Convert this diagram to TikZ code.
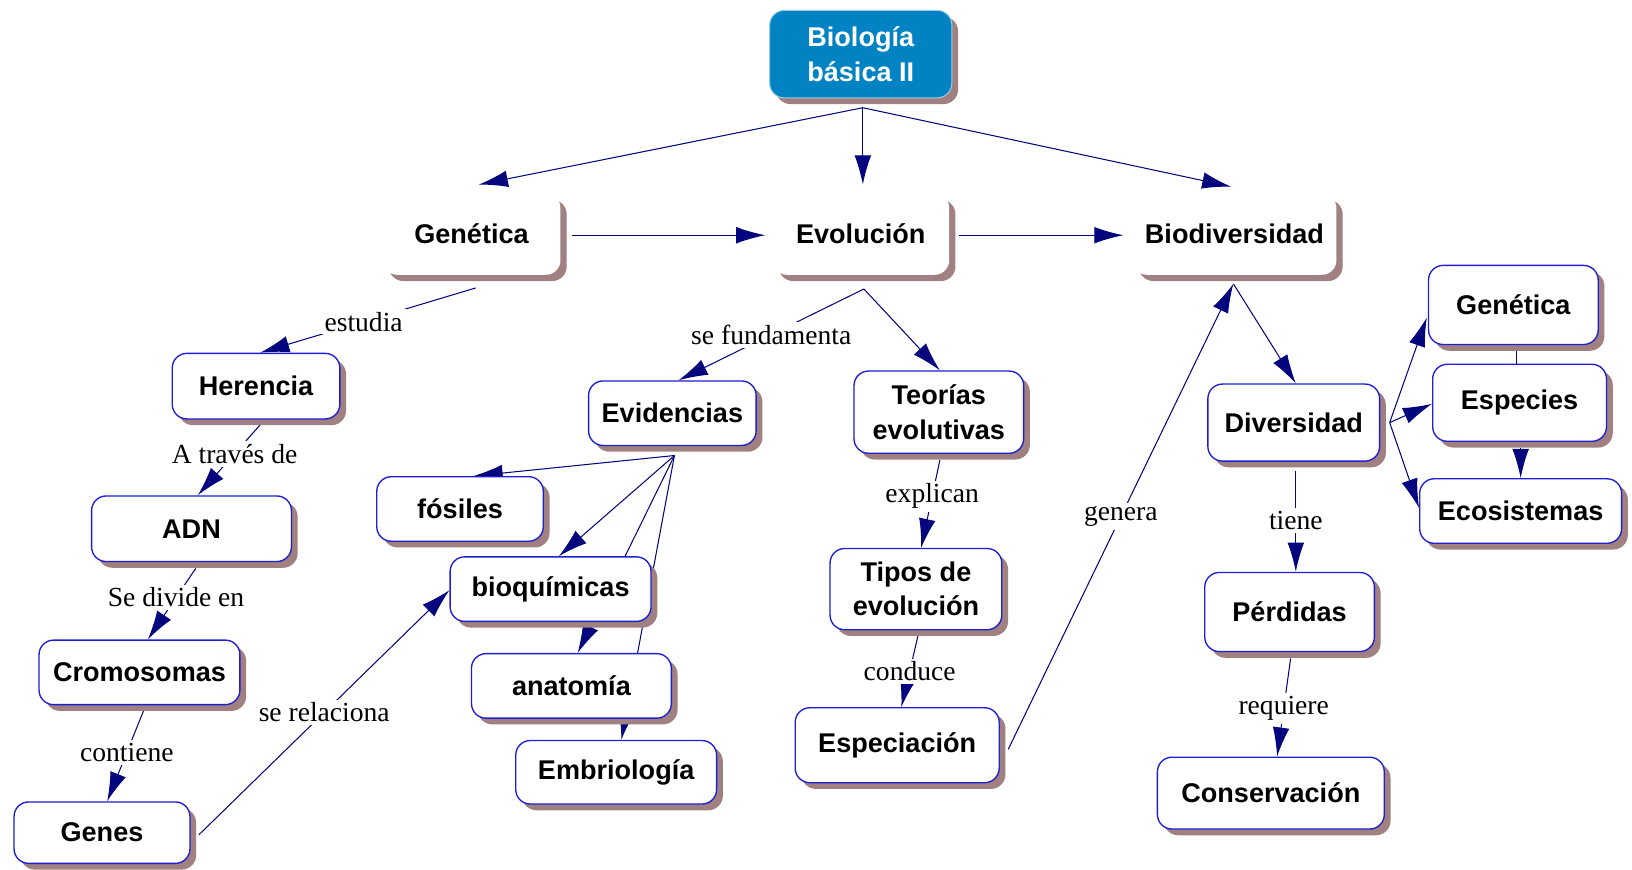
\documentclass[tikz,border=0pt]{standalone}
\usepackage{fontspec}
\setmainfont{Liberation Serif}
\newfontfamily\cfont{Liberation Sans}
\usetikzlibrary{arrows.meta,shadows,calc}
\pgfdeclarelayer{bg}
\pgfsetlayers{bg,main}
\definecolor{nodeblue}{RGB}{30,30,210}
\definecolor{edgec}{RGB}{5,5,125}
\definecolor{shadc}{RGB}{160,128,128}
\definecolor{bioc}{RGB}{0,130,195}
\tikzset{
  concept/.style={draw=nodeblue, line width=1.3pt, fill=white, rounded corners=14pt,
    font=\cfont\bfseries\fontsize{26}{33}\selectfont, align=center, inner sep=0pt,
    drop shadow={shadow xshift=6pt, shadow yshift=-6pt, fill=shadc, opacity=1}},
  plainbox/.style={concept, draw=none},
  rootbox/.style={concept, fill=bioc, draw=white!60!bioc, line width=1pt, text=white},
  sz/.style 2 args={minimum width=#1pt, minimum height=#2pt},
  lab/.style={fill=white, font=\fontsize{26.5}{30}\selectfont, inner sep=3pt},
  arr/.style={draw=edgec, line width=1pt, -{Latex[length=28pt,width=16pt]}},
  ln/.style={draw=edgec, line width=1pt},
}
\begin{document}
\begin{tikzpicture}[x=1pt,y=-1pt]
\useasboundingbox (0,0) rectangle (1568,835);
% nodes
\node[rootbox, sz={175}{84}] (bio) at (827,52) {Biología\\básica II};
\node[plainbox, sz={171}{78}] (gen) at (453,225) {Genética};
\node[plainbox, sz={170}{78}] (evo) at (827,225) {Evolución};
\node[plainbox, sz={196}{78}] (biod) at (1186,225) {Biodiversidad};
\node[concept, sz={161}{63}] (her) at (246,371) {Herencia};
\node[concept, sz={192}{63}] (adn) at (184,508) {ADN};
\node[concept, sz={193}{62}] (cro) at (134,646) {Cromosomas};
\node[concept, sz={169}{59}] (genes) at (98,800) {Genes};
\node[concept, sz={161}{62}] (evid) at (646,397) {Evidencias};
\node[concept, sz={160}{62}] (fos) at (442,489) {fósiles};
\node[concept, sz={193}{62}] (bioq) at (529,566) {bioquímicas};
\node[concept, sz={192}{62}] (anat) at (549,659) {anatomía};
\node[concept, sz={193}{61}] (embr) at (592,742) {Embriología};
\node[concept, sz={163}{79}] (teo) at (902,396) {Teorías\\evolutivas};
\node[concept, sz={165}{78}] (tipos) at (880,566) {Tipos de\\evolución};
\node[concept, sz={196}{72}] (espe) at (862,716) {Especiación};
\node[concept, sz={165}{74}] (diver) at (1243,406) {Diversidad};
\node[concept, sz={163}{76}] (perd) at (1239,588) {Pérdidas};
\node[concept, sz={218}{69}] (cons) at (1221,762) {Conservación};
\node[concept, sz={163}{76}] (gen2) at (1454,293) {Genética};
\node[concept, sz={167}{74}] (espc) at (1460,387) {Especies};
\node[concept, sz={194}{62}] (eco) at (1461,491) {Ecosistemas};
% connectors
\begin{pgfonlayer}{bg}
\draw[arr] ($(bio.south)+(2,9)$) -- ($(gen.north)+(7,-8)$);
\draw[arr] ($(bio.south)+(2,9)$) -- ($(evo.north)+(2,-8)$);
\draw[arr] ($(bio.south)+(2,9)$) -- ($(biod.north)+(-3,-6)$);
\draw[arr] ($(gen.east)+(10,1)$) -- ($(evo.west)+(-6,1)$);
\draw[arr] ($(evo.east)+(9,1)$) -- ($(biod.west)+(-8,1)$);
\draw[arr] ($(gen.south)+(4,12)$) -- node[lab,pos=0.52] (l1) {estudia} ($(her.north)+(4,0)$);
\draw[arr] ($(her.south)+(4,5)$) -- node[lab,pos=0.41] (l2) {A través de} ($(adn.north)+(6,0)$);
\draw[arr] ($(adn.south)+(4,6)$) -- node[lab,pos=0.41] (l3) {Se divide en} ($(cro.north)+(8,0)$);
\draw[arr] ($(cro.south)+(4,5)$) -- node[lab,pos=0.46] (l4) {contiene} ($(genes.north)+(5,0)$);
\draw[arr] ($(genes.east)+(8,2)$) -- node[lab,pos=0.5] (l5) {se relaciona} ($(bioq.west)+(0,1)$);
\draw[arr] ($(evo.south)+(3,13)$) -- node[lab,pos=0.5] (l6) {se fundamenta} ($(evid.north)+(6,0)$);
\draw[arr] ($(evo.south)+(3,13)$) -- ($(teo.north)+(1,0)$);
\draw[arr] ($(evid.south)+(2,9)$) -- ($(fos.north)+(13,0)$);
\draw[arr] ($(evid.south)+(2,9)$) -- ($(bioq.north)+(8,0)$);
\draw[arr] ($(evid.south)+(2,9)$) -- ($(anat.north)+(6,0)$);
\draw[arr] ($(evid.south)+(2,9)$) -- ($(embr.north)+(5,0)$);
\draw[arr] ($(teo.south)+(1,6)$) -- node[lab,pos=0.41] (l7) {explican} ($(tipos.north)+(5,0)$);
\draw[arr] ($(tipos.south)+(2,5)$) -- node[lab,pos=0.5] (l8) {conduce} ($(espe.north)+(4,0)$);
\draw[arr] ($(espe.east)+(8,4)$) -- node[lab,pos=0.5] (l9) {genera} ($(biod.south)+(-1,8)$);
\draw[arr] ($(biod.south)+(-1,8)$) -- ($(diver.north)+(2,0)$);
\draw[arr] ($(diver.south)+(2,9)$) -- node[lab,pos=0.49] (l10) {tiene} ($(perd.north)+(6,0)$);
\draw[arr] ($(perd.south)+(1,6)$) -- node[lab,pos=0.51] (l11) {requiere} ($(cons.north)+(6,0)$);
\draw[arr] ($(diver.east)+(9,0)$) -- ($(gen2.west)+(-1,12)$);
\draw[arr] ($(diver.east)+(9,0)$) -- ($(espc.west)+(0,1)$);
\draw[arr] ($(diver.east)+(9,0)$) -- ($(eco.west)+(0,-3)$);
\draw[ln] ($(gen2.south)+(3,0)$) -- ($(espc.north)+(-3,0)$);
\draw[arr] ($(espc.south)+(1,6)$) -- (eco.north);
\end{pgfonlayer}
\end{tikzpicture}
\end{document}
